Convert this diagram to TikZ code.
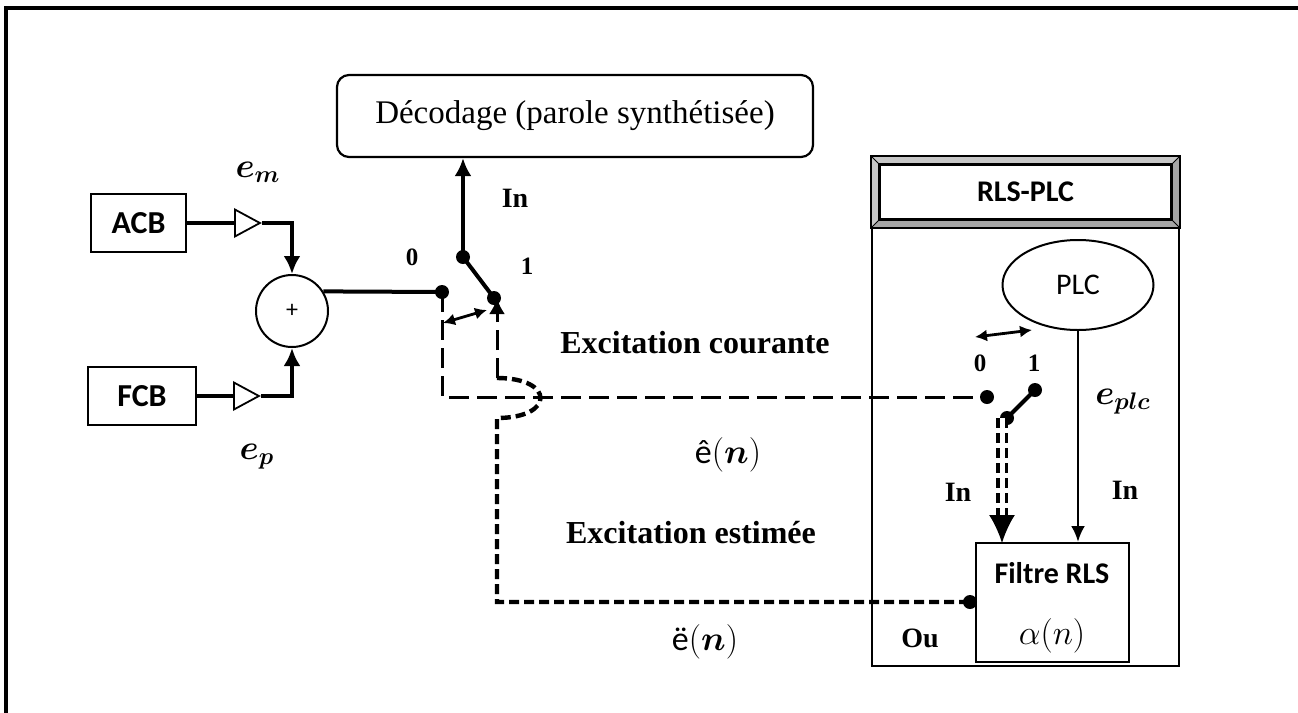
\documentclass[tikz,border=0pt]{standalone}
\usepackage{amsmath}
\usepackage{bm}
\usepackage{fontspec}
\setmainfont{Liberation Serif}
\newfontfamily\calibri{Carlito}
\usetikzlibrary{shapes, arrows.meta, positioning}
\tikzstyle{blk} = [draw, rectangle, line width=1pt, inner sep=0pt, font=\calibri\bfseries\fontsize{16}{19}\selectfont]
\tikzstyle{amp} = [draw, isosceles triangle, isosceles triangle stretches, inner sep=0pt, minimum width=13.5pt, minimum height=12.5pt, line width=0.9pt]
\tikzstyle{dot} = [circle, fill=black, inner sep=0pt, minimum size=7pt]
\tikzstyle{lbl} = [font=\bfseries\fontsize{14}{17}\selectfont]
\tikzstyle{num} = [font=\bfseries\fontsize{12.5}{15}\selectfont]
\tikzstyle{big} = [font=\bfseries\fontsize{16}{19}\selectfont]
\tikzstyle{mth} = [font=\fontsize{17}{20}\selectfont]
\tikzstyle{wire} = [draw, line width=2pt]
\tikzstyle{line} = [draw, line width=2pt, -{Latex[length=9pt,width=8.5pt]}]
\tikzstyle{swap} = [draw, line width=1.4pt, {Latex[length=6pt,width=6pt]}-{Latex[length=6pt,width=6pt]}]
\tikzstyle{longdash} = [draw, line width=1.5pt, dash pattern=on 10pt off 4pt]
\tikzstyle{shortdash} = [draw, line width=2.2pt, dash pattern=on 5pt off 2.5pt]
\tikzstyle{dbl} = [draw, double, double distance=2.5pt, line width=1.6pt, dash pattern=on 5pt off 2.5pt]

\begin{document}
\begin{tikzpicture}[x=0.5pt, y=-0.5pt]
	\useasboundingbox (0,0) rectangle (1298,713);
	\draw [line width=2pt] (6,713) -- (6,8) -- (1298,8);

	% left part
	\node [draw, rounded corners=6pt, line width=1.1pt, minimum width=238pt, minimum height=41pt, font=\fontsize{16.5}{19}\selectfont] (dec) at (575,116) {Décodage (parole synthétisée)};
	\node [blk, minimum width=47.5pt, minimum height=29pt] (acb) at (138.5,223) {ACB};
	\node [blk, minimum width=54pt, minimum height=29pt] (fcb) at (142,396) {FCB};
	\node [amp, anchor=lower side] (ampm) at (234,223) {};
	\node [amp, anchor=lower side] (ampf) at (233,396) {};
	\node [draw, circle, minimum size=36pt, line width=1pt, inner sep=0pt, font=\calibri\fontsize{12}{14}\selectfont] (sum) at (292,311) {+};
	\node [mth] (em) at (258,172) {$\bm{e}_{\bm{m}}$};
	\node [mth] (ep) at (257,457) {$\bm{e}_{\bm{p}}$};

	% switch
	\node [dot] (d0) at (442,292) {};
	\node [dot] (piv) at (463,257) {};
	\node [dot] (d1) at (494,298) {};
	\node [lbl] (in1) at (515,198) {In};
	\node [num] (n0) at (412,257) {0};
	\node [num] (n1) at (527,266) {1};
	\coordinate (sa) at (443,323);
	\coordinate (sb) at (487,310);
	\coordinate (hopt) at (497,378);
	\coordinate (hopb) at (497,418);

	\node [big] (cour) at (695,343) {Excitation courante};
	\node [big] (esti) at (691,533) {Excitation estimée};
	\node [mth] (ehat) at (728,455) {{\calibri ê}$(\bm{n})$};
	\node [mth] (edd) at (705,642) {{\calibri ë}$(\bm{n})$};

	% RLS-PLC block
	\node [draw, line width=1pt, minimum width=153.5pt, minimum height=254.5pt] (rls) at (1025.5,411.5) {};
	\node [draw, line width=1pt, minimum width=153.5pt, minimum height=35pt] (rlstop) at (1025.5,192) {};
	\node [draw, fill=white, line width=1pt, minimum width=145.5pt, minimum height=27pt, font=\calibri\bfseries\fontsize{15}{18}\selectfont] (rlsin) at (1025.5,192) {RLS-PLC};
	\fill [gray!45] (rlstop.north west) -- (rlstop.north east) -- (rlsin.north east) -- (rlsin.north west) -- cycle;
	\fill [gray!45] (rlstop.north west) -- (rlsin.north west) -- (rlsin.south west) -- (rlstop.south west) -- cycle;
	\fill [gray!70] (rlstop.south west) -- (rlsin.south west) -- (rlsin.south east) -- (rlstop.south east) -- cycle;
	\fill [gray!70] (rlstop.north east) -- (rlsin.north east) -- (rlsin.south east) -- (rlstop.south east) -- cycle;
	\draw [line width=1pt] (rlstop.north west) rectangle (rlstop.south east);
	\draw [line width=1pt] (rlsin.north west) rectangle (rlsin.south east);
	\draw [line width=0.5pt] (rlstop.north west) -- (rlsin.north west) (rlstop.north east) -- (rlsin.north east)
		(rlstop.south west) -- (rlsin.south west) (rlstop.south east) -- (rlsin.south east);

	\node [draw, ellipse, line width=1pt, minimum width=75.5pt, minimum height=45pt, font=\calibri\fontsize{15}{18}\selectfont] (plc) at (1078,285) {PLC};
	\node [draw, line width=1pt, minimum width=76.5pt, minimum height=59.5pt] (filtre) at (1052.5,602.5) {};
	\node [font=\calibri\bfseries\fontsize{15}{18}\selectfont] (ftxt) at (1052,573) {Filtre RLS};
	\node [mth] (alpha) at (1052,636) {$\alpha(n)$};

	\node [dot] (rd0) at (987,397) {};
	\node [dot] (rd1) at (1035,390) {};
	\node [dot] (rpiv) at (1007,418) {};
	\node [dot] (fd) at (970,602) {};
	\node [num] (r0) at (980,363) {0};
	\node [num] (r1) at (1034,363) {1};
	\node [mth] (eplc) at (1123,402) {$\bm{e}_{\bm{plc}}$};
	\node [lbl] (in2) at (958,492) {In};
	\node [lbl] (in3) at (1125,490) {In};
	\node [lbl] (ou) at (920,638) {Ou};
	\coordinate (ra) at (975,337);
	\coordinate (rb) at (1032,330);
	\coordinate (ftin) at (1002,543);

	% connections
	\path [wire] (acb) -- (ampm.lower side);
	\path [line] (ampm.apex) -| (sum.north);
	\path [wire] (fcb) -- (ampf.lower side);
	\path [line] (ampf.apex) -| (sum.south);
	\path [wire] (sum.32) -- (d0.center);
	\path [wire] (piv.center) -- (d1.center);
	\path [line] (piv.center) -- (piv |- dec.south);
	\path [swap] (sa) -- (sb);
	\path [longdash] (d0.center) |- (rd0.center);
	\path [longdash, -{Latex[length=8pt,width=8pt]}] (hopt) -- (hopt |- d1.center);
	\path [shortdash] (hopt) .. controls (555,378) and (555,418) .. (hopb) -- (hopb |- fd) -- (fd.center);
	\path [wire] (rpiv.center) -- (rd1.center);
	\path [swap] (ra) -- (rb);
	\path [dbl] (ftin |- rpiv) -- ([yshift=14pt]ftin);
	\path [draw, line width=1pt, -{Latex[length=14pt,width=13pt]}] ([yshift=14pt]ftin) -- (ftin);
	\path [draw, line width=1.4pt, -{Latex[length=8pt,width=7pt]}] (plc.south) -- (plc.south |- filtre.north);
	\end{tikzpicture}
\end{document}
